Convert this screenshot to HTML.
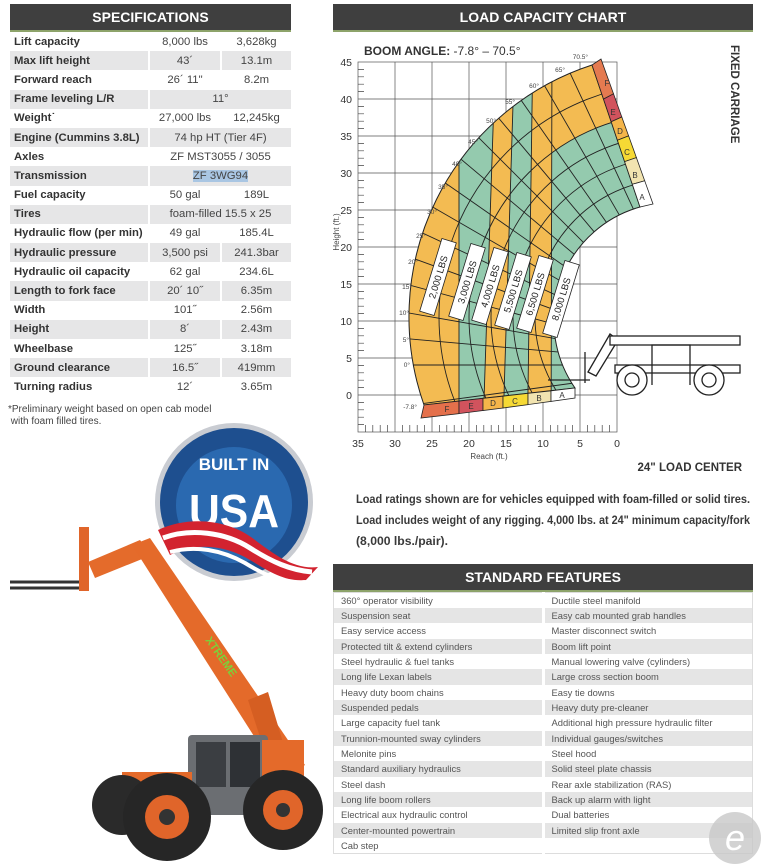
<!DOCTYPE html>
<html><head><meta charset="utf-8"><style>
*{margin:0;padding:0;box-sizing:border-box}
body{width:763px;height:868px;background:#fff;position:relative;overflow:hidden;font-family:"Liberation Sans",sans-serif}
.hdr{position:absolute;background:#3f3f3f;color:#fff;font-weight:bold;font-size:14px;text-align:center;border-bottom:2px solid #8da36a}
table{position:absolute;border-collapse:collapse}
#spec{left:10px;top:32px;width:281px}
#spec td{height:19.2px;font-size:11.3px;color:#444;text-align:center;border-left:2px solid #fff;padding:0}
#spec td:first-child{text-align:left;font-weight:bold;color:#333;padding-left:4px;border-left:none;width:139px}
#spec td:nth-child(2){width:72px}
#spec tr:nth-child(even) td{background:#e6e6e7}
#feat{left:333px;top:592px;width:420px;border:1px solid #ddd}
#feat td{height:15.35px;font-size:9.4px;color:#555;padding:0 0 0 7px;border-left:3px solid #fff;width:50%}
#feat td:first-child{border-left:none}
#feat tr:nth-child(even) td{background:#e5e5e5}
</style></head><body>
<div class="hdr" style="left:10px;top:4px;width:281px;height:28px;line-height:26px">SPECIFICATIONS</div>
<table id="spec">
<tr><td>Lift capacity</td><td>8,000 lbs</td><td>3,628kg</td></tr>
<tr><td>Max lift height</td><td>43´</td><td>13.1m</td></tr>
<tr><td>Forward reach</td><td>26´ 11"</td><td>8.2m</td></tr>
<tr><td>Frame leveling L/R</td><td colspan="2">11°</td></tr>
<tr><td>Weight˙</td><td>27,000 lbs</td><td>12,245kg</td></tr>
<tr><td>Engine (Cummins 3.8L)</td><td colspan="2">74 hp HT (Tier 4F)</td></tr>
<tr><td>Axles</td><td colspan="2">ZF MST3055 / 3055</td></tr>
<tr><td>Transmission</td><td colspan="2"><span style="background:#a9c6e3">ZF 3WG94</span></td></tr>
<tr><td>Fuel capacity</td><td>50 gal</td><td>189L</td></tr>
<tr><td>Tires</td><td colspan="2">foam-filled 15.5 x 25</td></tr>
<tr><td>Hydraulic flow (per min)</td><td>49 gal</td><td>185.4L</td></tr>
<tr><td>Hydraulic pressure</td><td>3,500 psi</td><td>241.3bar</td></tr>
<tr><td>Hydraulic oil capacity</td><td>62 gal</td><td>234.6L</td></tr>
<tr><td>Length to fork face</td><td>20´ 10˝</td><td>6.35m</td></tr>
<tr><td>Width</td><td>101˝</td><td>2.56m</td></tr>
<tr><td>Height</td><td>8´</td><td>2.43m</td></tr>
<tr><td>Wheelbase</td><td>125˝</td><td>3.18m</td></tr>
<tr><td>Ground clearance</td><td>16.5˝</td><td>419mm</td></tr>
<tr><td>Turning radius</td><td>12´</td><td>3.65m</td></tr>
</table>
<div style="position:absolute;left:8px;top:404px;font-size:10px;color:#444;line-height:12px">*Preliminary weight based on open cab model<br>&nbsp;with foam filled tires.</div>

<div class="hdr" style="left:333px;top:4px;width:420px;height:28px;line-height:26px">LOAD CAPACITY CHART</div>
<div class="hdr" style="left:333px;top:564px;width:420px;height:28px;line-height:27px">STANDARD FEATURES</div>
<table id="feat">
<tr><td>360° operator visibility</td><td>Ductile steel manifold</td></tr>
<tr><td>Suspension seat</td><td>Easy cab mounted grab handles</td></tr>
<tr><td>Easy service access</td><td>Master disconnect switch</td></tr>
<tr><td>Protected tilt &amp; extend cylinders</td><td>Boom lift point</td></tr>
<tr><td>Steel hydraulic &amp; fuel tanks</td><td>Manual lowering valve (cylinders)</td></tr>
<tr><td>Long life Lexan labels</td><td>Large cross section boom</td></tr>
<tr><td>Heavy duty boom chains</td><td>Easy tie downs</td></tr>
<tr><td>Suspended pedals</td><td>Heavy duty pre-cleaner</td></tr>
<tr><td>Large capacity fuel tank</td><td>Additional high pressure hydraulic filter</td></tr>
<tr><td>Trunnion-mounted sway cylinders</td><td>Individual gauges/switches</td></tr>
<tr><td>Melonite pins</td><td>Steel hood</td></tr>
<tr><td>Standard auxiliary hydraulics</td><td>Solid steel plate chassis</td></tr>
<tr><td>Steel dash</td><td>Rear axle stabilization (RAS)</td></tr>
<tr><td>Long life boom rollers</td><td>Back up alarm with light</td></tr>
<tr><td>Electrical aux hydraulic control</td><td>Dual batteries</td></tr>
<tr><td>Center-mounted powertrain</td><td>Limited slip front axle</td></tr>
<tr><td>Cab step</td><td></td></tr>
</table>

<svg width="763" height="868" style="position:absolute;left:0;top:0" xmlns="http://www.w3.org/2000/svg" font-family="Liberation Sans, sans-serif">
<defs>
<clipPath id="sec"><path d="M424,405 A265,265 0 0 1 592,65 L640,207 A118,118 0 0 0 575,388 Z"/></clipPath>
<clipPath id="rx"><rect x="540" y="0" width="200" height="400"/></clipPath>
</defs>
<g font-size="11.5" font-weight="bold" fill="#3a3a3a">
<text x="356" y="503" textLength="394" lengthAdjust="spacingAndGlyphs">Load ratings shown are for vehicles equipped with foam-filled or solid tires.</text>
<text x="356" y="524" textLength="394" lengthAdjust="spacingAndGlyphs">Load includes weight of any rigging. 4,000 lbs. at 24" minimum capacity/fork</text>
<text x="356" y="545" textLength="92" lengthAdjust="spacingAndGlyphs">(8,000 lbs./pair).</text>
</g>
<!-- grid -->
<g stroke="#555" stroke-width="0.7" fill="none">
<rect x="358" y="62" width="259" height="370"/>
<path d="M395,62V432M432,62V432M469,62V432M506,62V432M543,62V432M580,62V432"/>
<path d="M358,99H617M358,136H617M358,173H617M358,210H617M358,247H617M358,284H617M358,321H617M358,358H617M358,395H617"/>
</g>
<g stroke="#444" stroke-width="0.7">
<path d="M358,69.4h6M358,76.8h6M358,84.2h6M358,91.6h6M358,106.4h6M358,113.8h6M358,121.2h6M358,128.6h6M358,143.4h6M358,150.8h6M358,158.2h6M358,165.6h6M358,180.4h6M358,187.8h6M358,195.2h6M358,202.6h6M358,217.4h6M358,224.8h6M358,232.2h6M358,239.6h6M358,254.4h6M358,261.8h6M358,269.2h6M358,276.6h6M358,291.4h6M358,298.8h6M358,306.2h6M358,313.6h6M358,328.4h6M358,335.8h6M358,343.2h6M358,350.6h6M358,365.4h6M358,372.8h6M358,380.2h6M358,387.6h6M358,402.4h6M358,409.8h6M358,417.2h6M358,424.6h6"/>
<path d="M365.4,432v-7M372.8,432v-7M380.2,432v-7M387.6,432v-7M402.4,432v-7M409.8,432v-7M417.2,432v-7M424.6,432v-7M439.4,432v-7M446.8,432v-7M454.2,432v-7M461.6,432v-7M476.4,432v-7M483.8,432v-7M491.2,432v-7M498.6,432v-7M513.4,432v-7M520.8,432v-7M528.2,432v-7M535.6,432v-7M550.4,432v-7M557.8,432v-7M565.2,432v-7M572.6,432v-7M587.4,432v-7M594.8,432v-7M602.2,432v-7M609.6,432v-7"/>
</g>
<g font-size="10.5" fill="#333" text-anchor="end">
<text x="352" y="66">45</text><text x="352" y="103">40</text><text x="352" y="140">35</text><text x="352" y="177">30</text><text x="352" y="214">25</text><text x="352" y="251">20</text><text x="352" y="288">15</text><text x="352" y="325">10</text><text x="352" y="362">5</text><text x="352" y="399">0</text>
</g>
<g font-size="10.5" fill="#333" text-anchor="middle">
<text x="358" y="447">35</text><text x="395" y="447">30</text><text x="432" y="447">25</text><text x="469" y="447">20</text><text x="506" y="447">15</text><text x="543" y="447">10</text><text x="580" y="447">5</text><text x="617" y="447">0</text>
</g>
<text x="489" y="459" font-size="8" fill="#444" text-anchor="middle">Reach (ft.)</text>
<text transform="translate(339,232) rotate(-90)" font-size="8" fill="#444" text-anchor="middle">Height (ft.)</text>
<text x="364" y="55" font-size="12" fill="#333"><tspan font-weight="bold">BOOM ANGLE:</tspan> -7.8° – 70.5°</text>
<text transform="translate(731,45) rotate(90)" font-size="11.5" font-weight="bold" fill="#333">FIXED CARRIAGE</text>
<text x="742" y="471" font-size="11.5" font-weight="bold" fill="#333" text-anchor="end">24" LOAD CENTER</text>

<!-- zones -->
<g clip-path="url(#sec)">
<rect x="350" y="40" width="320" height="400" fill="#94caae"/>
<g fill="#f3bb52">
<polygon points="300,0 459,0 459,460 300,460"/>
<polygon points="482,460 502,460 515,40 496,40"/>
<polygon points="527,460 551,460 552,40 533,40"/>
<g clip-path="url(#rx)"><path fill-rule="evenodd" d="M673,317m-300,0a300,300 0 1,0 600,0a300,300 0 1,0 -600,0M673,317m-204,0a204,204 0 1,0 408,0a204,204 0 1,0 -408,0"/></g>
</g>
<g stroke="#222" stroke-width="0.9" fill="none">
<circle cx="673" cy="317" r="138"/><circle cx="673" cy="317" r="160"/><circle cx="673" cy="317" r="182"/><circle cx="673" cy="317" r="204"/><circle cx="673" cy="317" r="234"/>
<path d="M459,460V0M482,460L496,40M502,460L515,40M527,460L533,40M551,460L552,40"/>
<g transform="translate(706,365)">
<line x1="0" y1="0" x2="-396" y2="54"/>
<line x1="0" y1="0" x2="-400" y2="0"/>
<line x1="0" y1="0" x2="-398" y2="-35"/>
<line x1="0" y1="0" x2="-394" y2="-69"/>
<line x1="0" y1="0" x2="-386" y2="-104"/>
<line x1="0" y1="0" x2="-376" y2="-137"/>
<line x1="0" y1="0" x2="-363" y2="-169"/>
<line x1="0" y1="0" x2="-346" y2="-200"/>
<line x1="0" y1="0" x2="-328" y2="-229"/>
<line x1="0" y1="0" x2="-306" y2="-257"/>
<line x1="0" y1="0" x2="-283" y2="-283"/>
<line x1="0" y1="0" x2="-257" y2="-306"/>
<line x1="0" y1="0" x2="-229" y2="-328"/>
<line x1="0" y1="0" x2="-200" y2="-346"/>
<line x1="0" y1="0" x2="-169" y2="-363"/>
<line x1="0" y1="0" x2="-134" y2="-377"/>
</g>
</g>
</g>
<path d="M424,405 A265,265 0 0 1 592,65 L640,207 A118,118 0 0 0 575,388 Z" fill="none" stroke="#222" stroke-width="1"/>
<g stroke="#222" stroke-width="0.8">
<polygon points="592,65 601,59 613.5,93.8 603.5,99.1" fill="#e47a50"/>
<polygon points="603.5,99.1 613.5,93.8 621.8,117 611.2,121.8" fill="#d1535d"/>
<polygon points="611.2,121.8 621.8,117 628.6,135.9 617.4,140.3" fill="#f4b54a"/>
<polygon points="617.4,140.3 628.6,135.9 636.4,157.6 624.6,161.6" fill="#f6d934"/>
<polygon points="624.6,161.6 636.4,157.6 644.7,180.8 632.3,184.3" fill="#f2e4b0"/>
<polygon points="632.3,184.3 644.7,180.8 653,204 640,207" fill="#fff"/>
</g>
<g stroke="#222" stroke-width="0.8">
<polygon points="424,405 459,401.1 459,413.6 421,418" fill="#e4704b"/>
<polygon points="459,401.1 483,398.4 483,410.5 459,413.6" fill="#d1535d"/>
<polygon points="483,398.4 503,396.2 503,408 483,410.5" fill="#f4b54a"/>
<polygon points="503,396.2 528,393.4 528,404.6 503,408" fill="#f6d934"/>
<polygon points="528,393.4 551,390.8 551,401.4 528,404.6" fill="#f2e4b0"/>
<polygon points="551,390.8 575,388 575,398 551,401.4" fill="#fff"/>
</g>
<g font-size="8" fill="#333" text-anchor="middle">
<text x="607" y="86">F</text><text x="613" y="115">E</text><text x="620" y="134">D</text><text x="627" y="155">C</text><text x="635" y="178">B</text><text x="642" y="200">A</text>
<text x="447" y="412">F</text><text x="471" y="409">E</text><text x="493" y="406">D</text><text x="515" y="404">C</text><text x="539" y="401">B</text><text x="562" y="398">A</text>
</g>
<g font-size="6.5" fill="#444" text-anchor="end">
<text x="588" y="59">70.5°</text><text x="565" y="72">65°</text><text x="539" y="88">60°</text><text x="515" y="104">55°</text><text x="496" y="123">50°</text><text x="478" y="144">45°</text><text x="462" y="166">40°</text><text x="448" y="189">35°</text><text x="437" y="214">30°</text><text x="426" y="238">25°</text><text x="418" y="264">20°</text><text x="412" y="289">15°</text><text x="409" y="315">10°</text><text x="409" y="342">5°</text><text x="410" y="367">0°</text><text x="417" y="409">-7.8°</text>
</g>
<g font-size="9.5" fill="#222" text-anchor="middle">
<g transform="translate(438,277) rotate(-73)"><rect x="-38" y="-7.5" width="76" height="15" fill="#fff" stroke="#222" stroke-width="0.8"/><text y="3.5">2,000 LBS</text></g>
<g transform="translate(467,282) rotate(-73)"><rect x="-38" y="-7.5" width="76" height="15" fill="#fff" stroke="#222" stroke-width="0.8"/><text y="3.5">3,000 LBS</text></g>
<g transform="translate(490,286) rotate(-73)"><rect x="-38" y="-7.5" width="76" height="15" fill="#fff" stroke="#222" stroke-width="0.8"/><text y="3.5">4,000 LBS</text></g>
<g transform="translate(513,291) rotate(-73)"><rect x="-38" y="-7.5" width="76" height="15" fill="#fff" stroke="#222" stroke-width="0.8"/><text y="3.5">5,500 LBS</text></g>
<g transform="translate(535,294) rotate(-73)"><rect x="-38" y="-7.5" width="76" height="15" fill="#fff" stroke="#222" stroke-width="0.8"/><text y="3.5">6,500 LBS</text></g>
<g transform="translate(561,299) rotate(-73)"><rect x="-38" y="-7.5" width="76" height="15" fill="#fff" stroke="#222" stroke-width="0.8"/><text y="3.5">8,000 LBS</text></g>
</g>
<g stroke="#222" stroke-width="1.3" fill="#fff">
<path d="M548,380H590M585,352V383" fill="none"/>
<polygon points="588,372 596,376 618,340 610,334"/>
<rect x="610" y="336" width="130" height="9"/>
<rect x="615" y="365" width="125" height="8"/>
<path d="M652,385V345H690V385" fill="none"/>
<circle cx="632" cy="380" r="15"/><circle cx="632" cy="380" r="7"/>
<circle cx="709" cy="380" r="15"/><circle cx="709" cy="380" r="7"/>
</g>

<circle cx="234" cy="502" r="79" fill="#c9ccd2"/>
<circle cx="234" cy="502" r="74" fill="#1e4f8f"/>
<circle cx="234" cy="505" r="58" fill="#2a69b0"/>
<text x="234" y="470" font-size="17" font-weight="bold" fill="#fff" text-anchor="middle">BUILT IN</text>
<text x="234" y="527" font-size="46" font-weight="bold" fill="#fff" text-anchor="middle" textLength="90" lengthAdjust="spacingAndGlyphs">USA</text>
<path d="M158,530 C190,515 230,520 255,540 C275,555 295,570 318,567 L306,580 C285,582 270,572 250,560 C225,545 195,542 170,555 Z" fill="#d2232f"/>
<path d="M163,538 C190,528 225,532 250,548 C272,562 290,570 312,572" fill="none" stroke="#fff" stroke-width="5"/>
<path d="M170,552 C195,545 222,550 245,563 C268,577 288,585 305,582" fill="none" stroke="#fff" stroke-width="4"/>

<g>
<path d="M10,582H86M10,588H86" stroke="#333" stroke-width="3"/>
<rect x="79" y="527" width="10" height="64" fill="#e0652a"/>
<polygon points="88,562 140,540 152,555 95,578" fill="#e46b2b"/>
<polygon points="132,545 150,538 305,765 282,780" fill="#e46a2a"/>
<polygon points="248,700 268,692 300,800 282,805" fill="#d55e22"/>
<text transform="translate(205,640) rotate(55)" font-size="11" font-weight="bold" fill="#7bd23a">XTREME</text>
<rect x="188" y="735" width="80" height="80" rx="4" fill="#6b6e72"/>
<rect x="196" y="742" width="30" height="45" fill="#3b3e42"/>
<rect x="230" y="742" width="30" height="45" fill="#2e3135"/>
<rect x="262" y="740" width="42" height="65" fill="#e46a2a"/>
<rect x="122" y="772" width="70" height="38" fill="#e46a2a"/>
<circle cx="122" cy="805" r="30" fill="#2a2a2a"/>
<circle cx="167" cy="817" r="44" fill="#262626"/><circle cx="167" cy="817" r="22" fill="#e0652a"/><circle cx="167" cy="817" r="8" fill="#333"/>
<circle cx="283" cy="810" r="40" fill="#262626"/><circle cx="283" cy="810" r="20" fill="#e0652a"/><circle cx="283" cy="810" r="7" fill="#333"/>
</g>
<circle cx="735" cy="838" r="26" fill="#c8c8c8" opacity="0.8"/>
<text x="735" y="850" font-size="36" font-style="italic" fill="#fff" text-anchor="middle">e</text>
</svg>
</body></html>
